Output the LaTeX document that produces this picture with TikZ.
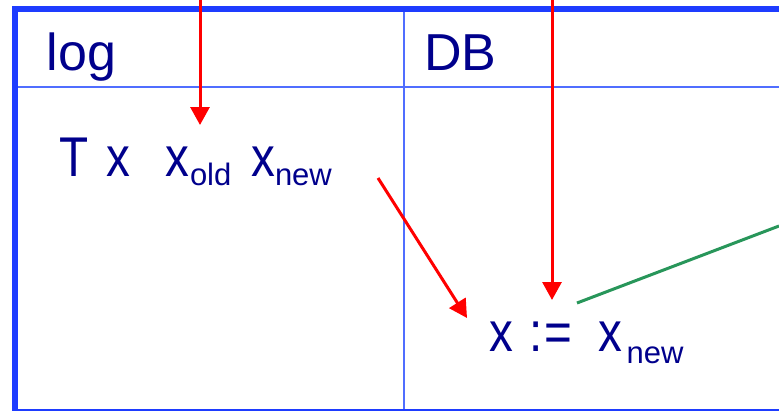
\documentclass[tikz,border=0pt]{standalone}
\usepackage{fontspec}
\setmainfont{Liberation Sans}
\newfontfamily\cfont[FakeStretch=0.85]{Liberation Sans}
\usetikzlibrary{arrows.meta}
\definecolor{frameblue}{RGB}{30,60,255}
\definecolor{thinblue}{RGB}{80,110,255}
\definecolor{txtblue}{RGB}{0,0,140}
\definecolor{arrred}{RGB}{255,0,0}
\definecolor{lgreen}{RGB}{40,150,90}
\newcommand\mysubtxt[2]{\raisebox{-#1pt}{\fontsize{31}{31}\selectfont\rmfamily #2}}
\tikzset{
  lbl/.style={inner sep=0pt, anchor=base west, text=txtblue, font=\fontsize{52}{60}\selectfont},
  big/.style={inner sep=0pt, anchor=base west, text=txtblue, font=\fontsize{56}{60}\selectfont\cfont},
  redarrow/.style={draw=arrred, line width=3pt, -{Triangle[width=19pt,length=18pt]}},
  thick frame/.style={draw=frameblue, line width=5.5pt},
  thin frame/.style={draw=thinblue, line width=2.5pt},
}
\begin{document}
\begin{tikzpicture}[x=1pt,y=-1pt]
\useasboundingbox (0,0) rectangle (779,413);
% frame
\draw[thin frame] (15,87) -- (779,87);
\draw[thin frame] (404,9) -- (404,410);
\draw[draw=frameblue, line width=2.5pt] (12,410) -- (779,410);
\draw[thick frame] (12,9) -- (779,9);
\draw[thick frame] (15,7) -- (15,411);
% headers
\node[lbl] (log) at (46.5,70) {log};
\node[lbl] (db) at (424,70) {DB};
% log entry
\node[big] (T) at (59,176) {T};
\node[big] (x) at (106.5,176) {x};
\node[big] (xold) at (165,176) {x\kern1pt\mysubtxt{9}{old}};
\node[big] (xnew) at (251,176) {x\mysubtxt{9}{new}};
% assignment
\node[big] (assign) at (489,351) {x\kern16pt:\kern2.6pt=\kern25.5pt x\kern4.7pt\mysubtxt{12}{new}};
% connectors
\coordinate (a1s) at (200,0);
\coordinate (a1e) at (200,125);
\coordinate (a2s) at (552,0);
\coordinate (a2e) at (552,300);
\coordinate (a3s) at (378,178);
\coordinate (a3e) at (467,318);
\coordinate (gs) at (577,303);
\coordinate (ge) at (779,226);
\draw[redarrow] (a1s) -- (a1e);
\draw[redarrow] (a2s) -- (a2e);
\draw[redarrow] (a3s) -- (a3e);
\draw[draw=lgreen, line width=3pt] (gs) -- (ge);
\end{tikzpicture}
\end{document}
